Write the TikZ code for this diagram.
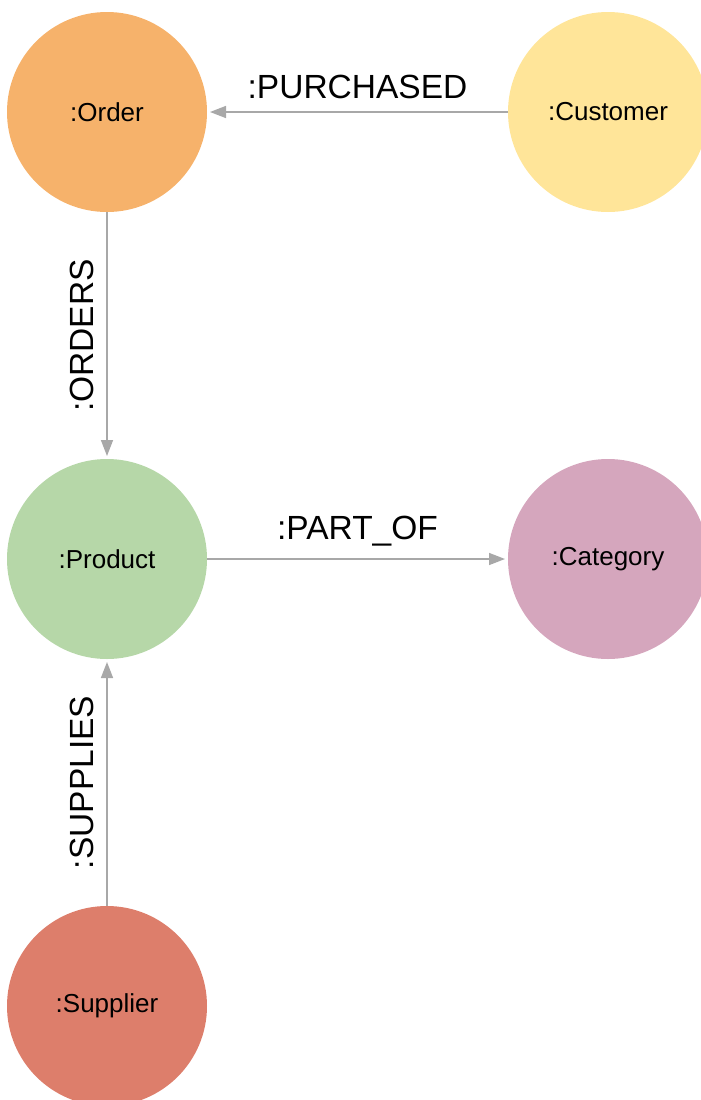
\documentclass[tikz,border=0pt]{standalone}
\usepackage{fontspec}
\setmainfont{Liberation Sans}
\usetikzlibrary{arrows.meta,positioning}
\definecolor{ordercol}{HTML}{F6B26B}
\definecolor{custcol}{HTML}{FFE599}
\definecolor{prodcol}{HTML}{B6D7A8}
\definecolor{catcol}{HTML}{D5A6BD}
\definecolor{suppcol}{HTML}{DD7E6B}
\definecolor{edgecol}{HTML}{A8A8A8}
\tikzset{
  ent/.style={circle,minimum size=200pt,inner sep=0pt,outer sep=0pt,
    font=\fontsize{26}{31}\selectfont},
  ent_order/.style={ent,fill=ordercol},
  ent_cust/.style={ent,fill=custcol},
  ent_prod/.style={ent,fill=prodcol},
  ent_cat/.style={ent,fill=catcol},
  ent_supp/.style={ent,fill=suppcol},
  arr/.style={-{Triangle[length=16pt,width=12pt]},draw=edgecol,line width=1.5pt,shorten >=3pt},
  rel/.style={midway,anchor=south,inner xsep=0pt,inner ysep=12pt,font=\fontsize{33.5}{40}\selectfont},
  rel_v/.style={rel,rotate=90},
}

\begin{document}
\begin{tikzpicture}[node distance=247pt and 301pt]
  \useasboundingbox (0,0) rectangle (701pt,-1100pt);

  \node[ent_order] (order) at (107pt,-112pt) {:Order};
  \node[ent_cust, right=of order] (customer) {:Customer};
  \node[ent_prod, below=of order] (product) {:Product};
  \node[ent_cat, right=of product] (category) {:Category};
  \node[ent_supp, below=of product] (supplier) {:Supplier};

  \draw[arr] (customer) -- node[rel] {:PURCHASED} (order);
  \draw[arr] (order) -- node[rel_v] {:ORDERS} (product);
  \draw[arr] (product) -- node[rel] {:PART\_OF} (category);
  \draw[arr] (supplier) -- node[rel_v] {:SUPPLIES} (product);
\end{tikzpicture}
\end{document}
